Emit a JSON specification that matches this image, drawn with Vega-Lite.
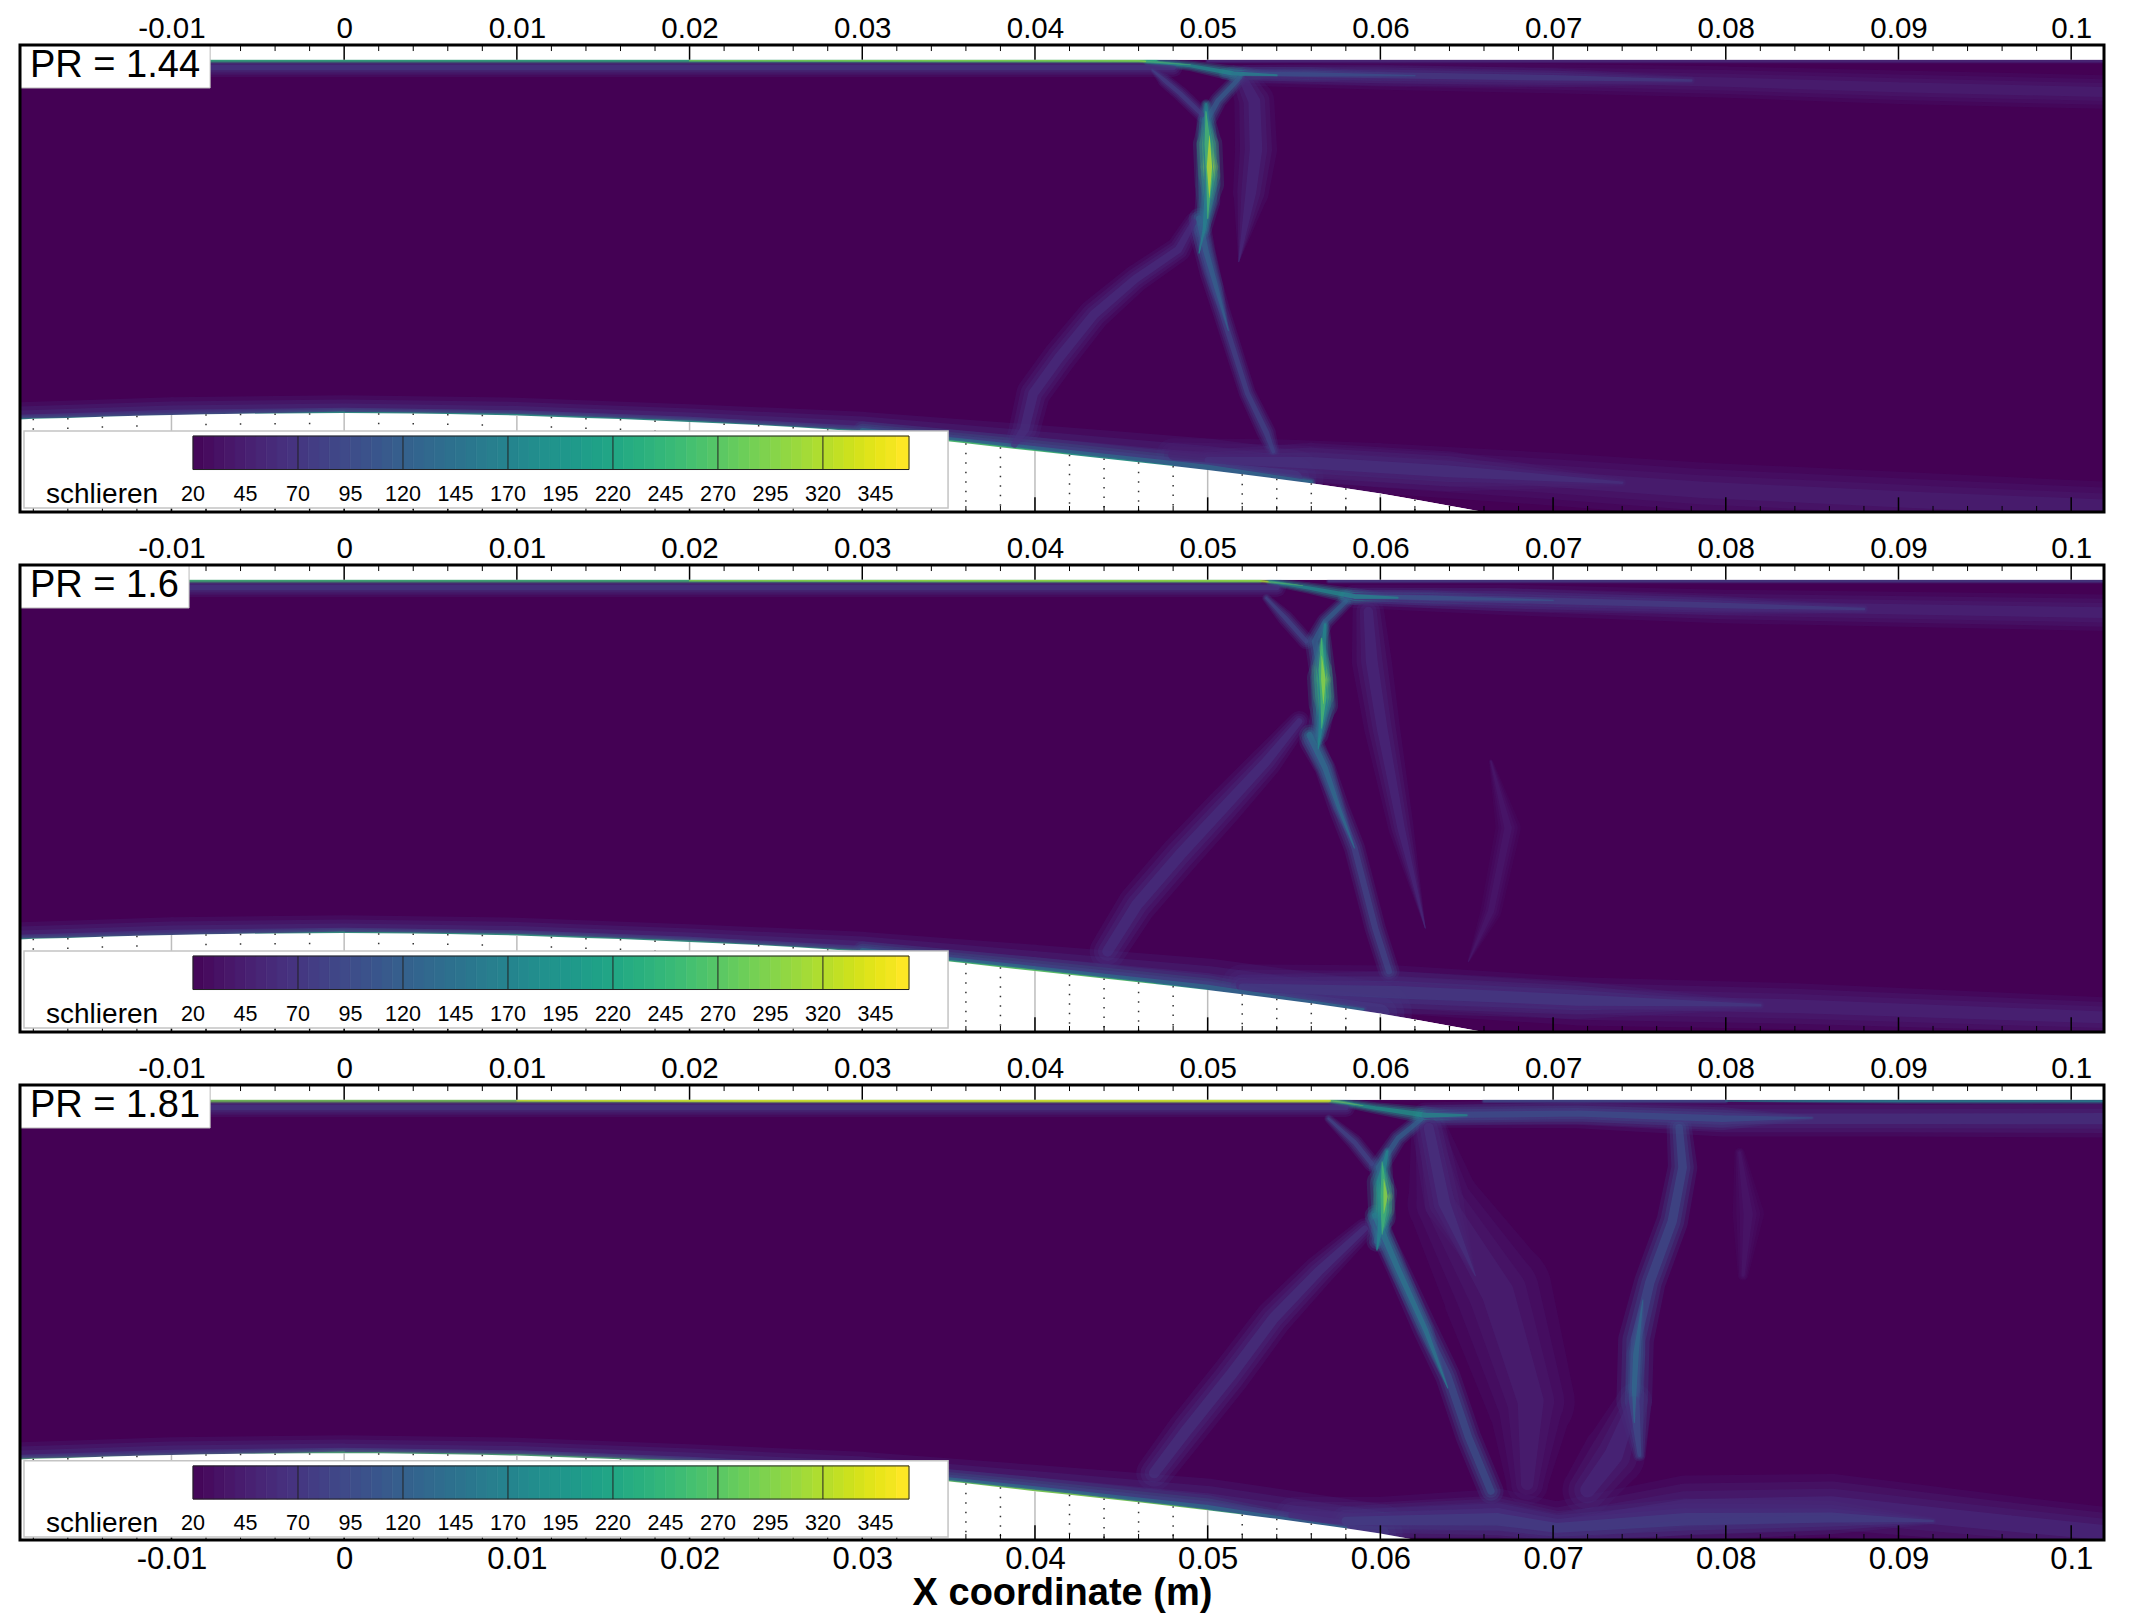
{"background":"white","padding":{"left":18,"top":13,"right":24,"bottom":10},"config":{"view":{"stroke":null},"font":"Liberation Sans"},"bounds":"flush","spacing":53,"resolve":{"scale":{"x":"independent","y":"independent"}},
"datasets":{
"grid":[{"x":-0.019,"floor":5.35,"kind":"edge"},{"x":-0.018,"floor":5.4,"kind":"minor"},{"x":-0.016,"floor":5.45,"kind":"minor"},{"x":-0.014,"floor":5.52,"kind":"minor"},{"x":-0.012,"floor":5.58,"kind":"minor"},{"x":-0.01,"floor":5.62,"kind":"major"},{"x":-0.008,"floor":5.66,"kind":"minor"},{"x":-0.006,"floor":5.69,"kind":"minor"},{"x":-0.004,"floor":5.71,"kind":"minor"},{"x":-0.002,"floor":5.72,"kind":"minor"},{"x":0,"floor":5.73,"kind":"major"},{"x":0.002,"floor":5.72,"kind":"minor"},{"x":0.004,"floor":5.7,"kind":"minor"},{"x":0.006,"floor":5.67,"kind":"minor"},{"x":0.008,"floor":5.63,"kind":"minor"},{"x":0.01,"floor":5.59,"kind":"major"},{"x":0.012,"floor":5.52,"kind":"minor"},{"x":0.014,"floor":5.45,"kind":"minor"},{"x":0.016,"floor":5.38,"kind":"minor"},{"x":0.018,"floor":5.3,"kind":"minor"},{"x":0.02,"floor":5.21,"kind":"major"},{"x":0.022,"floor":5.13,"kind":"minor"},{"x":0.024,"floor":5.04,"kind":"minor"},{"x":0.026,"floor":4.93,"kind":"minor"},{"x":0.028,"floor":4.8,"kind":"minor"},{"x":0.03,"floor":4.65,"kind":"major"},{"x":0.032,"floor":4.45,"kind":"minor"},{"x":0.034,"floor":4.2,"kind":"minor"},{"x":0.036,"floor":3.98,"kind":"minor"},{"x":0.038,"floor":3.75,"kind":"minor"},{"x":0.04,"floor":3.53,"kind":"major"},{"x":0.042,"floor":3.32,"kind":"minor"},{"x":0.044,"floor":3.1,"kind":"minor"},{"x":0.046,"floor":2.88,"kind":"minor"},{"x":0.048,"floor":2.66,"kind":"minor"},{"x":0.05,"floor":2.43,"kind":"major"},{"x":0.052,"floor":2.18,"kind":"minor"},{"x":0.054,"floor":1.93,"kind":"minor"},{"x":0.056,"floor":1.66,"kind":"minor"},{"x":0.058,"floor":1.38,"kind":"minor"},{"x":0.06,"floor":1.07,"kind":"major"},{"x":0.062,"floor":0.72,"kind":"minor"},{"x":0.064,"floor":0.36,"kind":"minor"},{"x":0.066,"floor":0,"kind":"minor"},{"x":0.068,"floor":-0.36,"kind":"minor"},{"x":0.07,"floor":-0.72,"kind":"major"},{"x":0.072,"floor":-1.08,"kind":"minor"},{"x":0.074,"floor":-1.44,"kind":"minor"},{"x":0.076,"floor":-1.8,"kind":"minor"},{"x":0.078,"floor":-2.16,"kind":"minor"},{"x":0.08,"floor":-2.52,"kind":"major"},{"x":0.082,"floor":-2.88,"kind":"minor"},{"x":0.084,"floor":-3.24,"kind":"minor"},{"x":0.086,"floor":-3.6,"kind":"minor"},{"x":0.088,"floor":-3.96,"kind":"minor"},{"x":0.09,"floor":-4.32,"kind":"major"},{"x":0.092,"floor":-4.68,"kind":"minor"},{"x":0.094,"floor":-5.04,"kind":"minor"},{"x":0.096,"floor":-5.4,"kind":"minor"},{"x":0.098,"floor":-5.76,"kind":"minor"},{"x":0.1,"floor":-6.12,"kind":"major"},{"x":0.102,"floor":-6.48,"kind":"minor"},{"x":0.103,"floor":-6.7,"kind":"edge"}],
"bar":[{"lo":20,"hi":25},{"lo":25,"hi":30},{"lo":30,"hi":35},{"lo":35,"hi":40},{"lo":40,"hi":45},{"lo":45,"hi":50},{"lo":50,"hi":55},{"lo":55,"hi":60},{"lo":60,"hi":65},{"lo":65,"hi":70},{"lo":70,"hi":75},{"lo":75,"hi":80},{"lo":80,"hi":85},{"lo":85,"hi":90},{"lo":90,"hi":95},{"lo":95,"hi":100},{"lo":100,"hi":105},{"lo":105,"hi":110},{"lo":110,"hi":115},{"lo":115,"hi":120},{"lo":120,"hi":125},{"lo":125,"hi":130},{"lo":130,"hi":135},{"lo":135,"hi":140},{"lo":140,"hi":145},{"lo":145,"hi":150},{"lo":150,"hi":155},{"lo":155,"hi":160},{"lo":160,"hi":165},{"lo":165,"hi":170},{"lo":170,"hi":175},{"lo":175,"hi":180},{"lo":180,"hi":185},{"lo":185,"hi":190},{"lo":190,"hi":195},{"lo":195,"hi":200},{"lo":200,"hi":205},{"lo":205,"hi":210},{"lo":210,"hi":215},{"lo":215,"hi":220},{"lo":220,"hi":225},{"lo":225,"hi":230},{"lo":230,"hi":235},{"lo":235,"hi":240},{"lo":240,"hi":245},{"lo":245,"hi":250},{"lo":250,"hi":255},{"lo":255,"hi":260},{"lo":260,"hi":265},{"lo":265,"hi":270},{"lo":270,"hi":275},{"lo":275,"hi":280},{"lo":280,"hi":285},{"lo":285,"hi":290},{"lo":290,"hi":295},{"lo":295,"hi":300},{"lo":300,"hi":305},{"lo":305,"hi":310},{"lo":310,"hi":315},{"lo":315,"hi":320},{"lo":320,"hi":325},{"lo":325,"hi":330},{"lo":330,"hi":335},{"lo":335,"hi":340},{"lo":340,"hi":345},{"lo":345,"hi":350},{"lo":350,"hi":355},{"lo":355,"hi":361}],
"barlabels":[{"v":20},{"v":45},{"v":70},{"v":95},{"v":120},{"v":145},{"v":170},{"v":195},{"v":220},{"v":245},{"v":270},{"v":295},{"v":320},{"v":345}],
"barlines":[{"v":70},{"v":120},{"v":170},{"v":220},{"v":270},{"v":320}],
"streaks":[
{"panel":1,"streak":"a","n":1,"x":-0.019,"y":5.32,"schlieren":75,"thick":1.7},{"panel":1,"streak":"a","n":2,"x":-0.01,"y":5.62,"schlieren":75,"thick":1.7},{"panel":1,"streak":"a","n":3,"x":0,"y":5.73,"schlieren":75,"thick":1.7},{"panel":1,"streak":"a","n":4,"x":0.01,"y":5.59,"schlieren":75,"thick":1.7},{"panel":1,"streak":"a","n":5,"x":0.02,"y":5.21,"schlieren":75,"thick":1.7},{"panel":1,"streak":"a","n":6,"x":0.03,"y":4.65,"schlieren":75,"thick":1.9},{"panel":1,"streak":"a","n":7,"x":0.04,"y":3.53,"schlieren":75,"thick":2.5},{"panel":1,"streak":"a","n":8,"x":0.05,"y":2.43,"schlieren":75,"thick":3},{"panel":1,"streak":"a","n":9,"x":0.055,"y":1.9,"schlieren":75,"thick":2.8},
{"panel":1,"streak":"b","n":1,"x":0.048,"y":3.3,"schlieren":50,"thick":1.6},{"panel":1,"streak":"b","n":2,"x":0.054,"y":2.94,"schlieren":50,"thick":2.1},{"panel":1,"streak":"b","n":3,"x":0.06,"y":2.53,"schlieren":50,"thick":2.4},{"panel":1,"streak":"b","n":4,"x":0.07,"y":1.9,"schlieren":50,"thick":2.5},{"panel":1,"streak":"b","n":5,"x":0.0787,"y":1.28,"schlieren":50,"thick":2.6},{"panel":1,"streak":"b","n":6,"x":0.0918,"y":0.66,"schlieren":50,"thick":2.6},{"panel":1,"streak":"b","n":7,"x":0.103,"y":0.25,"schlieren":50,"thick":2.4},
{"panel":1,"streak":"c","n":1,"x":0.05,"y":3,"schlieren":70,"thick":1},{"panel":1,"streak":"c","n":2,"x":0.056,"y":2.85,"schlieren":70,"thick":1.9},{"panel":1,"streak":"c","n":3,"x":0.064,"y":2.35,"schlieren":70,"thick":1.9},{"panel":1,"streak":"c","n":4,"x":0.074,"y":1.7,"schlieren":70,"thick":0.4},
{"panel":1,"streak":"d","n":1,"x":0.03,"y":4.7,"schlieren":150,"thick":0.9},{"panel":1,"streak":"d","n":2,"x":0.04,"y":3.6,"schlieren":150,"thick":1.2},{"panel":1,"streak":"d","n":3,"x":0.05,"y":2.5,"schlieren":150,"thick":1.3},{"panel":1,"streak":"d","n":4,"x":0.056,"y":1.75,"schlieren":150,"thick":0.4},
{"panel":1,"streak":"e","n":1,"x":-0.019,"y":5.32,"schlieren":230,"thick":0.5},{"panel":1,"streak":"e","n":2,"x":0,"y":5.73,"schlieren":230,"thick":0.5},{"panel":1,"streak":"e","n":3,"x":0.01,"y":5.59,"schlieren":230,"thick":0.5},{"panel":1,"streak":"e","n":4,"x":0.02,"y":5.21,"schlieren":230,"thick":0.5},{"panel":1,"streak":"e","n":5,"x":0.03,"y":4.65,"schlieren":230,"thick":0.5},{"panel":1,"streak":"e","n":6,"x":0.04,"y":3.53,"schlieren":230,"thick":0.5},{"panel":1,"streak":"e","n":7,"x":0.045,"y":3,"schlieren":230,"thick":0.3},{"panel":1,"streak":"e","n":8,"x":0.048,"y":2.66,"schlieren":230,"thick":0},
{"panel":1,"streak":"f","n":1,"x":0.03,"y":4.65,"schlieren":280,"thick":0.1},{"panel":1,"streak":"f","n":2,"x":0.036,"y":3.98,"schlieren":280,"thick":0.4},{"panel":1,"streak":"f","n":3,"x":0.042,"y":3.32,"schlieren":280,"thick":0.1},
{"panel":1,"streak":"g","n":1,"x":-0.019,"y":25.75,"schlieren":75,"thick":0.9},{"panel":1,"streak":"g","n":2,"x":0.048,"y":25.75,"schlieren":75,"thick":0.9},
{"panel":1,"streak":"h","n":1,"x":-0.019,"y":26.15,"schlieren":240,"thick":0.3},{"panel":1,"streak":"h","n":2,"x":0.047,"y":26.15,"schlieren":240,"thick":0.3},
{"panel":1,"streak":"i","n":1,"x":0.02,"y":26.14,"schlieren":310,"thick":0},{"panel":1,"streak":"i","n":2,"x":0.035,"y":26.14,"schlieren":310,"thick":0.2},{"panel":1,"streak":"i","n":3,"x":0.046,"y":26.14,"schlieren":310,"thick":0.22},{"panel":1,"streak":"i","n":4,"x":0.049,"y":25.9,"schlieren":310,"thick":0.05},
{"panel":1,"streak":"j","n":1,"x":0.05,"y":26.12,"schlieren":65,"thick":0.25},{"panel":1,"streak":"j","n":2,"x":0.103,"y":26.12,"schlieren":65,"thick":0.25},
{"panel":1,"streak":"k","n":1,"x":0.0523,"y":25.3,"schlieren":50,"thick":1},{"panel":1,"streak":"k","n":2,"x":0.06,"y":25.25,"schlieren":50,"thick":1.3},{"panel":1,"streak":"k","n":3,"x":0.07,"y":25.1,"schlieren":50,"thick":1.4},{"panel":1,"streak":"k","n":4,"x":0.08,"y":24.9,"schlieren":50,"thick":1.5},{"panel":1,"streak":"k","n":5,"x":0.09,"y":24.6,"schlieren":50,"thick":1.6},{"panel":1,"streak":"k","n":6,"x":0.103,"y":24.3,"schlieren":50,"thick":1.6},
{"panel":1,"streak":"l","n":1,"x":0.0515,"y":25.4,"schlieren":80,"thick":0.8},{"panel":1,"streak":"l","n":2,"x":0.06,"y":25.3,"schlieren":80,"thick":1},{"panel":1,"streak":"l","n":3,"x":0.07,"y":25.15,"schlieren":80,"thick":0.9},{"panel":1,"streak":"l","n":4,"x":0.078,"y":25,"schlieren":80,"thick":0.4},
{"panel":1,"streak":"m","n":1,"x":0.051,"y":25.4,"schlieren":110,"thick":0.6},{"panel":1,"streak":"m","n":2,"x":0.056,"y":25.35,"schlieren":110,"thick":0.7},{"panel":1,"streak":"m","n":3,"x":0.062,"y":25.28,"schlieren":110,"thick":0.2},
{"panel":1,"streak":"n","n":1,"x":0.0521,"y":25,"schlieren":60,"thick":1.4},{"panel":1,"streak":"n","n":2,"x":0.0527,"y":23.8,"schlieren":60,"thick":1.9},{"panel":1,"streak":"n","n":3,"x":0.0528,"y":21,"schlieren":60,"thick":2},{"panel":1,"streak":"n","n":4,"x":0.0525,"y":18.5,"schlieren":60,"thick":1.7},{"panel":1,"streak":"n","n":5,"x":0.0518,"y":14.5,"schlieren":60,"thick":0},
{"panel":1,"streak":"o","n":1,"x":0.0492,"y":16.8,"schlieren":65,"thick":0.9},{"panel":1,"streak":"o","n":2,"x":0.0483,"y":15.2,"schlieren":65,"thick":1.2},{"panel":1,"streak":"o","n":3,"x":0.0458,"y":13.49,"schlieren":65,"thick":1.3},{"panel":1,"streak":"o","n":4,"x":0.0434,"y":11.42,"schlieren":65,"thick":1.5},{"panel":1,"streak":"o","n":5,"x":0.0414,"y":8.94,"schlieren":65,"thick":1.6},{"panel":1,"streak":"o","n":6,"x":0.0399,"y":6.87,"schlieren":65,"thick":1.6},{"panel":1,"streak":"o","n":7,"x":0.0394,"y":4.8,"schlieren":65,"thick":1.5},{"panel":1,"streak":"o","n":8,"x":0.0388,"y":3.9,"schlieren":65,"thick":1},
{"panel":1,"streak":"p","n":1,"x":0.0468,"y":25.6,"schlieren":85,"thick":0.2},{"panel":1,"streak":"p","n":2,"x":0.0475,"y":25,"schlieren":85,"thick":0.65},{"panel":1,"streak":"p","n":3,"x":0.0484,"y":24.25,"schlieren":85,"thick":0.7},{"panel":1,"streak":"p","n":4,"x":0.0497,"y":23,"schlieren":85,"thick":0.7},
{"panel":1,"streak":"q","n":1,"x":0.0495,"y":16.4,"schlieren":90,"thick":1},{"panel":1,"streak":"q","n":2,"x":0.0501,"y":13.9,"schlieren":90,"thick":0.95},{"panel":1,"streak":"q","n":3,"x":0.0508,"y":11.6,"schlieren":90,"thick":0.85},{"panel":1,"streak":"q","n":4,"x":0.0523,"y":6.87,"schlieren":90,"thick":0.8},{"panel":1,"streak":"q","n":5,"x":0.0534,"y":4.59,"schlieren":90,"thick":0.9},{"panel":1,"streak":"q","n":6,"x":0.0538,"y":3.5,"schlieren":90,"thick":0.6},
{"panel":1,"streak":"r","n":1,"x":0.0495,"y":17,"schlieren":130,"thick":1},{"panel":1,"streak":"r","n":2,"x":0.0499,"y":15.1,"schlieren":130,"thick":0.9},{"panel":1,"streak":"r","n":3,"x":0.0505,"y":13,"schlieren":130,"thick":0.7},{"panel":1,"streak":"r","n":4,"x":0.0512,"y":10.5,"schlieren":130,"thick":0},
{"panel":1,"streak":"s","n":1,"x":0.0519,"y":25.2,"schlieren":125,"thick":0.7},{"panel":1,"streak":"s","n":2,"x":0.0506,"y":23.83,"schlieren":125,"thick":0.8},{"panel":1,"streak":"s","n":3,"x":0.0499,"y":22.6,"schlieren":125,"thick":0.9},{"panel":1,"streak":"s","n":4,"x":0.05,"y":20,"schlieren":125,"thick":1.1},{"panel":1,"streak":"s","n":5,"x":0.05,"y":18,"schlieren":125,"thick":1.2},{"panel":1,"streak":"s","n":6,"x":0.0497,"y":16.4,"schlieren":125,"thick":0.9},
{"panel":1,"streak":"t","n":1,"x":0.0465,"y":26.1,"schlieren":190,"thick":0.4},{"panel":1,"streak":"t","n":2,"x":0.049,"y":25.85,"schlieren":190,"thick":0.5},{"panel":1,"streak":"t","n":3,"x":0.0515,"y":25.4,"schlieren":190,"thick":0.75},{"panel":1,"streak":"t","n":4,"x":0.054,"y":25.3,"schlieren":190,"thick":0.3},
{"panel":1,"streak":"u","n":1,"x":0.0499,"y":23.6,"schlieren":180,"thick":0.5},{"panel":1,"streak":"u","n":2,"x":0.05,"y":21.3,"schlieren":180,"thick":1.4},{"panel":1,"streak":"u","n":3,"x":0.0501,"y":19,"schlieren":180,"thick":1.4},{"panel":1,"streak":"u","n":4,"x":0.0498,"y":16.4,"schlieren":180,"thick":0.5},{"panel":1,"streak":"u","n":5,"x":0.0495,"y":15,"schlieren":180,"thick":0},
{"panel":1,"streak":"v","n":1,"x":0.0499,"y":23.2,"schlieren":270,"thick":0.1},{"panel":1,"streak":"v","n":2,"x":0.05,"y":21.3,"schlieren":270,"thick":1.05},{"panel":1,"streak":"v","n":3,"x":0.0501,"y":19.5,"schlieren":270,"thick":1.05},{"panel":1,"streak":"v","n":4,"x":0.05,"y":17,"schlieren":270,"thick":0.1},
{"panel":1,"streak":"w","n":1,"x":0.0501,"y":21.8,"schlieren":345,"thick":0.05},{"panel":1,"streak":"w","n":2,"x":0.0501,"y":20,"schlieren":345,"thick":0.85},{"panel":1,"streak":"w","n":3,"x":0.0501,"y":18.2,"schlieren":345,"thick":0.05},

{"panel":2,"streak":"a","n":1,"x":-0.019,"y":5.32,"schlieren":75,"thick":1.7},{"panel":2,"streak":"a","n":2,"x":-0.01,"y":5.62,"schlieren":75,"thick":1.7},{"panel":2,"streak":"a","n":3,"x":0,"y":5.73,"schlieren":75,"thick":1.7},{"panel":2,"streak":"a","n":4,"x":0.01,"y":5.59,"schlieren":75,"thick":1.7},{"panel":2,"streak":"a","n":5,"x":0.02,"y":5.21,"schlieren":75,"thick":1.7},{"panel":2,"streak":"a","n":6,"x":0.03,"y":4.65,"schlieren":75,"thick":1.9},{"panel":2,"streak":"a","n":7,"x":0.04,"y":3.53,"schlieren":75,"thick":2.5},{"panel":2,"streak":"a","n":8,"x":0.05,"y":2.43,"schlieren":75,"thick":3},{"panel":2,"streak":"a","n":9,"x":0.06,"y":1.07,"schlieren":75,"thick":3},
{"panel":2,"streak":"b","n":1,"x":0.052,"y":2.7,"schlieren":55,"thick":2},{"panel":2,"streak":"b","n":2,"x":0.061,"y":2.45,"schlieren":55,"thick":2.3},{"panel":2,"streak":"b","n":3,"x":0.0714,"y":1.78,"schlieren":55,"thick":2.3},{"panel":2,"streak":"b","n":4,"x":0.084,"y":1.49,"schlieren":55,"thick":2.2},{"panel":2,"streak":"b","n":5,"x":0.103,"y":0.81,"schlieren":55,"thick":1.9},
{"panel":2,"streak":"c","n":1,"x":0.052,"y":2.6,"schlieren":80,"thick":1.2},{"panel":2,"streak":"c","n":2,"x":0.061,"y":2.3,"schlieren":80,"thick":2},{"panel":2,"streak":"c","n":3,"x":0.0714,"y":1.85,"schlieren":80,"thick":1.8},{"panel":2,"streak":"c","n":4,"x":0.082,"y":1.55,"schlieren":80,"thick":0.4},
{"panel":2,"streak":"d","n":1,"x":0.03,"y":4.7,"schlieren":150,"thick":0.9},{"panel":2,"streak":"d","n":2,"x":0.04,"y":3.6,"schlieren":150,"thick":1.2},{"panel":2,"streak":"d","n":3,"x":0.05,"y":2.5,"schlieren":150,"thick":1.3},{"panel":2,"streak":"d","n":4,"x":0.059,"y":1.3,"schlieren":150,"thick":0.4},
{"panel":2,"streak":"e","n":1,"x":-0.019,"y":5.32,"schlieren":240,"thick":0.5},{"panel":2,"streak":"e","n":2,"x":0,"y":5.73,"schlieren":240,"thick":0.5},{"panel":2,"streak":"e","n":3,"x":0.01,"y":5.59,"schlieren":240,"thick":0.5},{"panel":2,"streak":"e","n":4,"x":0.02,"y":5.21,"schlieren":240,"thick":0.5},{"panel":2,"streak":"e","n":5,"x":0.03,"y":4.65,"schlieren":240,"thick":0.5},{"panel":2,"streak":"e","n":6,"x":0.04,"y":3.53,"schlieren":240,"thick":0.5},{"panel":2,"streak":"e","n":7,"x":0.046,"y":2.88,"schlieren":240,"thick":0.4},{"panel":2,"streak":"e","n":8,"x":0.05,"y":2.43,"schlieren":240,"thick":0},
{"panel":2,"streak":"f","n":1,"x":0.034,"y":4.2,"schlieren":290,"thick":0.1},{"panel":2,"streak":"f","n":2,"x":0.04,"y":3.53,"schlieren":290,"thick":0.4},{"panel":2,"streak":"f","n":3,"x":0.047,"y":2.77,"schlieren":290,"thick":0.1},
{"panel":2,"streak":"g","n":1,"x":-0.019,"y":25.75,"schlieren":75,"thick":0.9},{"panel":2,"streak":"g","n":2,"x":0.054,"y":25.75,"schlieren":75,"thick":0.9},
{"panel":2,"streak":"h","n":1,"x":-0.019,"y":26.15,"schlieren":255,"thick":0.3},{"panel":2,"streak":"h","n":2,"x":0.053,"y":26.15,"schlieren":255,"thick":0.3},
{"panel":2,"streak":"i","n":1,"x":0.02,"y":26.14,"schlieren":320,"thick":0},{"panel":2,"streak":"i","n":2,"x":0.035,"y":26.14,"schlieren":320,"thick":0.2},{"panel":2,"streak":"i","n":3,"x":0.053,"y":26.14,"schlieren":320,"thick":0.22},{"panel":2,"streak":"i","n":4,"x":0.0555,"y":25.85,"schlieren":320,"thick":0.05},
{"panel":2,"streak":"j","n":1,"x":0.057,"y":26.12,"schlieren":85,"thick":0.25},{"panel":2,"streak":"j","n":2,"x":0.103,"y":26.12,"schlieren":85,"thick":0.25},
{"panel":2,"streak":"k","n":1,"x":0.0585,"y":25.23,"schlieren":55,"thick":1.1},{"panel":2,"streak":"k","n":2,"x":0.0672,"y":25.04,"schlieren":55,"thick":1.45},{"panel":2,"streak":"k","n":3,"x":0.0798,"y":24.65,"schlieren":55,"thick":1.6},{"panel":2,"streak":"k","n":4,"x":0.103,"y":24.27,"schlieren":55,"thick":1.75},
{"panel":2,"streak":"l","n":1,"x":0.058,"y":25.25,"schlieren":85,"thick":0.8},{"panel":2,"streak":"l","n":2,"x":0.0672,"y":25.04,"schlieren":85,"thick":1.1},{"panel":2,"streak":"l","n":3,"x":0.0798,"y":24.7,"schlieren":85,"thick":0.9},{"panel":2,"streak":"l","n":4,"x":0.088,"y":24.5,"schlieren":85,"thick":0.4},
{"panel":2,"streak":"m","n":1,"x":0.058,"y":25.25,"schlieren":115,"thick":0.6},{"panel":2,"streak":"m","n":2,"x":0.063,"y":25.15,"schlieren":115,"thick":0.75},{"panel":2,"streak":"m","n":3,"x":0.07,"y":25,"schlieren":115,"thick":0.2},
{"panel":2,"streak":"n","n":1,"x":0.0593,"y":24.36,"schlieren":60,"thick":1.5},{"panel":2,"streak":"n","n":2,"x":0.0595,"y":21.47,"schlieren":60,"thick":1.9},{"panel":2,"streak":"n","n":3,"x":0.0601,"y":17.6,"schlieren":60,"thick":1.7},{"panel":2,"streak":"n","n":4,"x":0.0612,"y":11.81,"schlieren":60,"thick":1.2},{"panel":2,"streak":"n","n":5,"x":0.0626,"y":6.02,"schlieren":60,"thick":0},
{"panel":2,"streak":"o","n":1,"x":0.0553,"y":17.99,"schlieren":68,"thick":1},{"panel":2,"streak":"o","n":2,"x":0.0534,"y":15.68,"schlieren":68,"thick":1.5},{"panel":2,"streak":"o","n":3,"x":0.0509,"y":12.97,"schlieren":68,"thick":1.75},{"panel":2,"streak":"o","n":4,"x":0.0484,"y":10.27,"schlieren":68,"thick":1.85},{"panel":2,"streak":"o","n":5,"x":0.0459,"y":7.37,"schlieren":68,"thick":1.85},{"panel":2,"streak":"o","n":6,"x":0.0442,"y":4.67,"schlieren":68,"thick":1.7},
{"panel":2,"streak":"x","n":1,"x":0.0664,"y":15.68,"schlieren":42,"thick":0.2},{"panel":2,"streak":"x","n":2,"x":0.0674,"y":11.81,"schlieren":42,"thick":1.2},{"panel":2,"streak":"x","n":3,"x":0.0664,"y":6.99,"schlieren":42,"thick":1},{"panel":2,"streak":"x","n":4,"x":0.0651,"y":4.09,"schlieren":42,"thick":0.1},
{"panel":2,"streak":"p","n":1,"x":0.0534,"y":25.13,"schlieren":95,"thick":0.4},{"panel":2,"streak":"p","n":2,"x":0.0545,"y":23.98,"schlieren":95,"thick":0.75},{"panel":2,"streak":"p","n":3,"x":0.0557,"y":22.63,"schlieren":95,"thick":0.75},
{"panel":2,"streak":"q","n":1,"x":0.0559,"y":16.83,"schlieren":95,"thick":1},{"panel":2,"streak":"q","n":2,"x":0.0568,"y":15.29,"schlieren":95,"thick":1},{"panel":2,"streak":"q","n":3,"x":0.0576,"y":12.97,"schlieren":95,"thick":1},{"panel":2,"streak":"q","n":4,"x":0.0585,"y":10.66,"schlieren":95,"thick":1},{"panel":2,"streak":"q","n":5,"x":0.0597,"y":6.02,"schlieren":95,"thick":1},{"panel":2,"streak":"q","n":6,"x":0.0605,"y":3.51,"schlieren":95,"thick":1},
{"panel":2,"streak":"r","n":1,"x":0.0559,"y":17.2,"schlieren":150,"thick":1},{"panel":2,"streak":"r","n":2,"x":0.0568,"y":15.29,"schlieren":150,"thick":0.9},{"panel":2,"streak":"r","n":3,"x":0.0576,"y":12.97,"schlieren":150,"thick":0.6},{"panel":2,"streak":"r","n":4,"x":0.0585,"y":10.66,"schlieren":150,"thick":0},
{"panel":2,"streak":"s","n":1,"x":0.058,"y":24.94,"schlieren":130,"thick":0.7},{"panel":2,"streak":"s","n":2,"x":0.0568,"y":23.78,"schlieren":130,"thick":0.8},{"panel":2,"streak":"s","n":3,"x":0.0562,"y":22.63,"schlieren":130,"thick":0.95},{"panel":2,"streak":"s","n":4,"x":0.0566,"y":20.5,"schlieren":130,"thick":1.1},{"panel":2,"streak":"s","n":5,"x":0.0567,"y":18.96,"schlieren":130,"thick":1.2},{"panel":2,"streak":"s","n":6,"x":0.0564,"y":17.22,"schlieren":130,"thick":1},
{"panel":2,"streak":"t","n":1,"x":0.0536,"y":26.1,"schlieren":190,"thick":0.4},{"panel":2,"streak":"t","n":2,"x":0.0559,"y":25.71,"schlieren":190,"thick":0.55},{"panel":2,"streak":"t","n":3,"x":0.0585,"y":25.23,"schlieren":190,"thick":0.8},{"panel":2,"streak":"t","n":4,"x":0.061,"y":25.15,"schlieren":190,"thick":0.3},
{"panel":2,"streak":"u","n":1,"x":0.0568,"y":23.6,"schlieren":185,"thick":0.4},{"panel":2,"streak":"u","n":2,"x":0.0566,"y":20.5,"schlieren":185,"thick":1.4},{"panel":2,"streak":"u","n":3,"x":0.0567,"y":18.96,"schlieren":185,"thick":1.4},{"panel":2,"streak":"u","n":4,"x":0.0564,"y":16.4,"schlieren":185,"thick":0.1},
{"panel":2,"streak":"v","n":1,"x":0.0566,"y":22.8,"schlieren":270,"thick":0.1},{"panel":2,"streak":"v","n":2,"x":0.0566,"y":21,"schlieren":270,"thick":1},{"panel":2,"streak":"v","n":3,"x":0.0567,"y":19.4,"schlieren":270,"thick":1},{"panel":2,"streak":"v","n":4,"x":0.0566,"y":17.6,"schlieren":270,"thick":0.1},
{"panel":2,"streak":"w","n":1,"x":0.0566,"y":21.8,"schlieren":315,"thick":0.05},{"panel":2,"streak":"w","n":2,"x":0.0567,"y":20.4,"schlieren":315,"thick":0.75},{"panel":2,"streak":"w","n":3,"x":0.0567,"y":19,"schlieren":315,"thick":0.05},

{"panel":3,"streak":"a","n":1,"x":-0.019,"y":5.32,"schlieren":75,"thick":1.7},{"panel":3,"streak":"a","n":2,"x":-0.01,"y":5.62,"schlieren":75,"thick":1.7},{"panel":3,"streak":"a","n":3,"x":0,"y":5.73,"schlieren":75,"thick":1.7},{"panel":3,"streak":"a","n":4,"x":0.01,"y":5.59,"schlieren":75,"thick":1.7},{"panel":3,"streak":"a","n":5,"x":0.02,"y":5.21,"schlieren":75,"thick":1.7},{"panel":3,"streak":"a","n":6,"x":0.03,"y":4.65,"schlieren":75,"thick":1.9},{"panel":3,"streak":"a","n":7,"x":0.04,"y":3.53,"schlieren":75,"thick":2.5},{"panel":3,"streak":"a","n":8,"x":0.05,"y":2.43,"schlieren":75,"thick":3},{"panel":3,"streak":"a","n":9,"x":0.06,"y":1.07,"schlieren":75,"thick":2.8},
{"panel":3,"streak":"b","n":1,"x":0.055,"y":2.1,"schlieren":60,"thick":1.8},{"panel":3,"streak":"b","n":2,"x":0.0601,"y":1.87,"schlieren":60,"thick":2.2},{"panel":3,"streak":"b","n":3,"x":0.0668,"y":2.08,"schlieren":60,"thick":2.6},{"panel":3,"streak":"b","n":4,"x":0.0702,"y":1.45,"schlieren":60,"thick":2.4},{"panel":3,"streak":"b","n":5,"x":0.0777,"y":2.49,"schlieren":60,"thick":3.2},{"panel":3,"streak":"b","n":6,"x":0.0861,"y":2.7,"schlieren":60,"thick":3},{"panel":3,"streak":"b","n":7,"x":0.0965,"y":1.66,"schlieren":60,"thick":2.6},{"panel":3,"streak":"b","n":8,"x":0.103,"y":1.03,"schlieren":60,"thick":2.4},
{"panel":3,"streak":"c","n":1,"x":0.058,"y":1.8,"schlieren":85,"thick":1.4},{"panel":3,"streak":"c","n":2,"x":0.0668,"y":1.9,"schlieren":85,"thick":2},{"panel":3,"streak":"c","n":3,"x":0.0702,"y":1.4,"schlieren":85,"thick":1.6},{"panel":3,"streak":"c","n":4,"x":0.0777,"y":1.9,"schlieren":85,"thick":2},{"panel":3,"streak":"c","n":5,"x":0.0861,"y":2,"schlieren":85,"thick":1.6},{"panel":3,"streak":"c","n":6,"x":0.092,"y":1.8,"schlieren":85,"thick":0.3},
{"panel":3,"streak":"d","n":1,"x":0.03,"y":4.7,"schlieren":150,"thick":0.9},{"panel":3,"streak":"d","n":2,"x":0.04,"y":3.6,"schlieren":150,"thick":1.2},{"panel":3,"streak":"d","n":3,"x":0.05,"y":2.5,"schlieren":150,"thick":1.3},{"panel":3,"streak":"d","n":4,"x":0.058,"y":1.4,"schlieren":150,"thick":0.4},
{"panel":3,"streak":"e","n":1,"x":-0.019,"y":5.32,"schlieren":265,"thick":0.5},{"panel":3,"streak":"e","n":2,"x":0,"y":5.73,"schlieren":265,"thick":0.5},{"panel":3,"streak":"e","n":3,"x":0.01,"y":5.59,"schlieren":265,"thick":0.5},{"panel":3,"streak":"e","n":4,"x":0.02,"y":5.21,"schlieren":265,"thick":0.5},{"panel":3,"streak":"e","n":5,"x":0.03,"y":4.65,"schlieren":265,"thick":0.5},{"panel":3,"streak":"e","n":6,"x":0.04,"y":3.53,"schlieren":265,"thick":0.5},{"panel":3,"streak":"e","n":7,"x":0.048,"y":2.66,"schlieren":265,"thick":0.4},{"panel":3,"streak":"e","n":8,"x":0.052,"y":2.18,"schlieren":265,"thick":0},
{"panel":3,"streak":"f","n":1,"x":0.034,"y":4.2,"schlieren":310,"thick":0.1},{"panel":3,"streak":"f","n":2,"x":0.042,"y":3.32,"schlieren":310,"thick":0.4},{"panel":3,"streak":"f","n":3,"x":0.05,"y":2.43,"schlieren":310,"thick":0.1},
{"panel":3,"streak":"g","n":1,"x":-0.019,"y":25.75,"schlieren":75,"thick":0.9},{"panel":3,"streak":"g","n":2,"x":0.058,"y":25.75,"schlieren":75,"thick":0.9},
{"panel":3,"streak":"h","n":1,"x":-0.019,"y":26.15,"schlieren":290,"thick":0.3},{"panel":3,"streak":"h","n":2,"x":0.057,"y":26.15,"schlieren":290,"thick":0.3},
{"panel":3,"streak":"i","n":1,"x":0.01,"y":26.14,"schlieren":355,"thick":0},{"panel":3,"streak":"i","n":2,"x":0.025,"y":26.14,"schlieren":355,"thick":0.22},{"panel":3,"streak":"i","n":3,"x":0.0572,"y":26.14,"schlieren":355,"thick":0.25},{"panel":3,"streak":"i","n":4,"x":0.059,"y":25.85,"schlieren":355,"thick":0.05},
{"panel":3,"streak":"j","n":1,"x":0.066,"y":26.12,"schlieren":100,"thick":0.25},{"panel":3,"streak":"j","n":2,"x":0.08,"y":26.12,"schlieren":100,"thick":0.25},
{"panel":3,"streak":"y","n":1,"x":0.08,"y":26.12,"schlieren":175,"thick":0.1},{"panel":3,"streak":"y","n":2,"x":0.09,"y":26.12,"schlieren":175,"thick":0.28},{"panel":3,"streak":"y","n":3,"x":0.103,"y":26.12,"schlieren":175,"thick":0.3},
{"panel":3,"streak":"k","n":1,"x":0.0626,"y":25.3,"schlieren":70,"thick":1.2},{"panel":3,"streak":"k","n":2,"x":0.0714,"y":25.4,"schlieren":70,"thick":1.4},{"panel":3,"streak":"k","n":3,"x":0.0798,"y":25.1,"schlieren":70,"thick":1.7},{"panel":3,"streak":"k","n":4,"x":0.09,"y":25.1,"schlieren":70,"thick":1.7},{"panel":3,"streak":"k","n":5,"x":0.103,"y":25.1,"schlieren":70,"thick":1.8},
{"panel":3,"streak":"l","n":1,"x":0.0626,"y":25.3,"schlieren":105,"thick":1},{"panel":3,"streak":"l","n":2,"x":0.0714,"y":25.4,"schlieren":105,"thick":1},{"panel":3,"streak":"l","n":3,"x":0.0798,"y":25.1,"schlieren":105,"thick":1.1},{"panel":3,"streak":"l","n":4,"x":0.085,"y":25.15,"schlieren":105,"thick":0.2},
{"panel":3,"streak":"z","n":1,"x":0.0628,"y":24.58,"schlieren":50,"thick":1.7},{"panel":3,"streak":"z","n":2,"x":0.0637,"y":20.2,"schlieren":50,"thick":3.5},{"panel":3,"streak":"z","n":3,"x":0.0668,"y":14.99,"schlieren":50,"thick":5.2},{"panel":3,"streak":"z","n":4,"x":0.0687,"y":8.74,"schlieren":50,"thick":4.2},{"panel":3,"streak":"z","n":5,"x":0.0685,"y":3.95,"schlieren":50,"thick":2},
{"panel":3,"streak":"n","n":1,"x":0.0628,"y":24.58,"schlieren":70,"thick":1.6},{"panel":3,"streak":"n","n":2,"x":0.0637,"y":20.2,"schlieren":70,"thick":1.9},{"panel":3,"streak":"n","n":3,"x":0.0655,"y":16,"schlieren":70,"thick":0},
{"panel":3,"streak":"x","n":1,"x":0.0808,"y":23.12,"schlieren":40,"thick":0.5},{"panel":3,"streak":"x","n":2,"x":0.0813,"y":19.58,"schlieren":40,"thick":1.5},{"panel":3,"streak":"x","n":3,"x":0.081,"y":16.03,"schlieren":40,"thick":0.5},
{"panel":3,"streak":"o","n":1,"x":0.0591,"y":18.74,"schlieren":70,"thick":1},{"panel":3,"streak":"o","n":2,"x":0.0564,"y":16.24,"schlieren":70,"thick":1.5},{"panel":3,"streak":"o","n":3,"x":0.0538,"y":13.53,"schlieren":70,"thick":1.75},{"panel":3,"streak":"o","n":4,"x":0.0513,"y":10.2,"schlieren":70,"thick":1.85},{"panel":3,"streak":"o","n":5,"x":0.0488,"y":7.08,"schlieren":70,"thick":1.85},{"panel":3,"streak":"o","n":6,"x":0.0469,"y":4.58,"schlieren":70,"thick":1.7},
{"panel":3,"streak":"aa","n":1,"x":0.0747,"y":8.74,"schlieren":60,"thick":1.7},{"panel":3,"streak":"aa","n":2,"x":0.0735,"y":5.6,"schlieren":60,"thick":3},{"panel":3,"streak":"aa","n":3,"x":0.072,"y":3.6,"schlieren":60,"thick":2.4},
{"panel":3,"streak":"ab","n":1,"x":0.0773,"y":24.58,"schlieren":100,"thick":1.2},{"panel":3,"streak":"ab","n":2,"x":0.0775,"y":22.28,"schlieren":100,"thick":1.4},{"panel":3,"streak":"ab","n":3,"x":0.0769,"y":19.16,"schlieren":100,"thick":1.5},{"panel":3,"streak":"ab","n":4,"x":0.0756,"y":15.62,"schlieren":100,"thick":1.5},{"panel":3,"streak":"ab","n":5,"x":0.0748,"y":12.28,"schlieren":100,"thick":1.7},{"panel":3,"streak":"ab","n":6,"x":0.0747,"y":8.74,"schlieren":100,"thick":1.7},{"panel":3,"streak":"ab","n":7,"x":0.075,"y":5.62,"schlieren":100,"thick":0.6},
{"panel":3,"streak":"ac","n":1,"x":0.0752,"y":14.6,"schlieren":145,"thick":0.1},{"panel":3,"streak":"ac","n":2,"x":0.0748,"y":11.5,"schlieren":145,"thick":0.9},{"panel":3,"streak":"ac","n":3,"x":0.0747,"y":9.5,"schlieren":145,"thick":0.8},{"panel":3,"streak":"ac","n":4,"x":0.0747,"y":7.5,"schlieren":145,"thick":0},
{"panel":3,"streak":"p","n":1,"x":0.057,"y":25.1,"schlieren":95,"thick":0.4},{"panel":3,"streak":"p","n":2,"x":0.0585,"y":23.74,"schlieren":95,"thick":0.75},{"panel":3,"streak":"p","n":3,"x":0.0595,"y":22.49,"schlieren":95,"thick":0.75},
{"panel":3,"streak":"q","n":1,"x":0.0597,"y":19.16,"schlieren":105,"thick":1},{"panel":3,"streak":"q","n":2,"x":0.061,"y":16.45,"schlieren":105,"thick":1.1},{"panel":3,"streak":"q","n":3,"x":0.0626,"y":12.91,"schlieren":105,"thick":1.2},{"panel":3,"streak":"q","n":4,"x":0.0639,"y":10.2,"schlieren":105,"thick":1.2},{"panel":3,"streak":"q","n":5,"x":0.0651,"y":6.66,"schlieren":105,"thick":1.2},{"panel":3,"streak":"q","n":6,"x":0.0664,"y":3.53,"schlieren":105,"thick":1.2},
{"panel":3,"streak":"r","n":1,"x":0.0597,"y":19.5,"schlieren":165,"thick":1},{"panel":3,"streak":"r","n":2,"x":0.061,"y":16.45,"schlieren":165,"thick":0.9},{"panel":3,"streak":"r","n":3,"x":0.0626,"y":12.91,"schlieren":165,"thick":0.8},{"panel":3,"streak":"r","n":4,"x":0.0639,"y":9.5,"schlieren":165,"thick":0},
{"panel":3,"streak":"s","n":1,"x":0.0624,"y":25.1,"schlieren":130,"thick":0.7},{"panel":3,"streak":"s","n":2,"x":0.061,"y":23.95,"schlieren":130,"thick":0.8},{"panel":3,"streak":"s","n":3,"x":0.0599,"y":22.28,"schlieren":130,"thick":0.95},{"panel":3,"streak":"s","n":4,"x":0.0603,"y":20.83,"schlieren":130,"thick":1.1},{"panel":3,"streak":"s","n":5,"x":0.0601,"y":19.37,"schlieren":130,"thick":1.1},{"panel":3,"streak":"s","n":6,"x":0.0598,"y":18,"schlieren":130,"thick":1},
{"panel":3,"streak":"t","n":1,"x":0.0572,"y":26.14,"schlieren":200,"thick":0.4},{"panel":3,"streak":"t","n":2,"x":0.0597,"y":25.72,"schlieren":200,"thick":0.55},{"panel":3,"streak":"t","n":3,"x":0.0626,"y":25.3,"schlieren":200,"thick":0.85},{"panel":3,"streak":"t","n":4,"x":0.065,"y":25.3,"schlieren":200,"thick":0.3},
{"panel":3,"streak":"u","n":1,"x":0.0604,"y":23.2,"schlieren":185,"thick":0.4},{"panel":3,"streak":"u","n":2,"x":0.06,"y":21.4,"schlieren":185,"thick":1.3},{"panel":3,"streak":"u","n":3,"x":0.0601,"y":19.4,"schlieren":185,"thick":1.3},{"panel":3,"streak":"u","n":4,"x":0.0598,"y":17.5,"schlieren":185,"thick":0.1},
{"panel":3,"streak":"v","n":1,"x":0.0601,"y":22.6,"schlieren":265,"thick":0.1},{"panel":3,"streak":"v","n":2,"x":0.0602,"y":21,"schlieren":265,"thick":1},{"panel":3,"streak":"v","n":3,"x":0.0602,"y":19.8,"schlieren":265,"thick":1},{"panel":3,"streak":"v","n":4,"x":0.0601,"y":18.4,"schlieren":265,"thick":0.1},
{"panel":3,"streak":"w","n":1,"x":0.0602,"y":21.6,"schlieren":315,"thick":0.05},{"panel":3,"streak":"w","n":2,"x":0.0603,"y":20.6,"schlieren":315,"thick":0.7},{"panel":3,"streak":"w","n":3,"x":0.0602,"y":19.6,"schlieren":315,"thick":0.05}
]},
"vconcat":[
{"width":2084,"height":467,"resolve":{"scale":{"x":"independent"}},"layer":[
{"resolve":{"scale":{"size":"independent"}},"layer":[
{"data":{"name":"grid"},"mark":{"type":"area","clip":true,"color":"#440154"},"encoding":{"x":{"field":"x","type":"quantitative","axis":null,"scale":{"domain":[-0.01877,0.1019],"nice":false,"zero":false}},"y":{"field":"floor","type":"quantitative","axis":null,"scale":{"domain":[0,27.05],"nice":false,"zero":false}},"y2":{"datum":26.2}}},
{"data":{"name":"streaks"},"transform":[{"filter":"datum.panel==1"}],"mark":{"type":"trail","clip":true,"opacity":0.2},"encoding":{"x":{"field":"x","type":"quantitative","axis":null},"y":{"field":"y","type":"quantitative","axis":null},"detail":{"field":"streak"},"order":{"field":"n","type":"quantitative"},"size":{"field":"thick","type":"quantitative","legend":null,"scale":{"domain":[0,10],"range":[0,210]}},"color":{"field":"schlieren","type":"quantitative","legend":null,"scale":{"scheme":"viridis","domain":[20,361]}}}},
{"data":{"name":"streaks"},"transform":[{"filter":"datum.panel==1"}],"mark":{"type":"trail","clip":true,"opacity":0.25},"encoding":{"x":{"field":"x","type":"quantitative","axis":null},"y":{"field":"y","type":"quantitative","axis":null},"detail":{"field":"streak"},"order":{"field":"n","type":"quantitative"},"size":{"field":"thick","type":"quantitative","legend":null,"scale":{"domain":[0,10],"range":[0,160]}},"color":{"field":"schlieren","type":"quantitative","legend":null,"scale":{"scheme":"viridis","domain":[20,361]}}}},
{"data":{"name":"streaks"},"transform":[{"filter":"datum.panel==1"}],"mark":{"type":"trail","clip":true,"opacity":0.3},"encoding":{"x":{"field":"x","type":"quantitative","axis":null},"y":{"field":"y","type":"quantitative","axis":null},"detail":{"field":"streak"},"order":{"field":"n","type":"quantitative"},"size":{"field":"thick","type":"quantitative","legend":null,"scale":{"domain":[0,10],"range":[0,112]}},"color":{"field":"schlieren","type":"quantitative","legend":null,"scale":{"scheme":"viridis","domain":[20,361]}}}},
{"data":{"name":"streaks"},"transform":[{"filter":"datum.panel==1"}],"mark":{"type":"trail","clip":true,"opacity":0.6},"encoding":{"x":{"field":"x","type":"quantitative","axis":null},"y":{"field":"y","type":"quantitative","axis":null},"detail":{"field":"streak"},"order":{"field":"n","type":"quantitative"},"size":{"field":"thick","type":"quantitative","legend":null,"scale":{"domain":[0,10],"range":[0,62]}},"color":{"field":"schlieren","type":"quantitative","legend":null,"scale":{"scheme":"viridis","domain":[20,361]}}}},
{"data":{"name":"grid"},"mark":{"type":"area","clip":true,"color":"white"},"encoding":{"x":{"field":"x","type":"quantitative","axis":null},"y":{"field":"floor","type":"quantitative","axis":null},"y2":{"datum":-8}}},
{"data":{"values":[{}]},"mark":{"type":"rect","clip":true,"color":"white"},"encoding":{"x":{"datum":-0.01877,"axis":null},"x2":{"datum":0.1019},"y":{"datum":26.2,"axis":null},"y2":{"datum":28}}},
{"data":{"name":"grid"},"transform":[{"filter":"datum.kind=='major'&&datum.floor>0"}],"mark":{"type":"rule","clip":true,"color":"#bdbdbd","strokeWidth":1.5},"encoding":{"x":{"field":"x","type":"quantitative","axis":null},"y":{"field":"floor","type":"quantitative","axis":null},"y2":{"datum":0}}},
{"data":{"name":"grid"},"transform":[{"filter":"datum.kind=='minor'&&datum.floor>0"}],"mark":{"type":"rule","clip":true,"color":"#333333","strokeWidth":1.5,"strokeDash":[1.5,8]},"encoding":{"x":{"field":"x","type":"quantitative","axis":null},"y":{"field":"floor","type":"quantitative","axis":null},"y2":{"datum":0}}},
{"data":{"name":"grid"},"transform":[{"filter":"datum.kind=='major'"}],"mark":{"type":"rule","clip":true,"color":"black","strokeWidth":1.5},"encoding":{"x":{"field":"x","type":"quantitative","axis":null},"y":{"datum":27.05,"axis":null},"y2":{"datum":26.2}}},
{"data":{"name":"grid"},"transform":[{"filter":"datum.kind=='minor'"}],"mark":{"type":"rule","clip":true,"color":"black","strokeWidth":1},"encoding":{"x":{"field":"x","type":"quantitative","axis":null},"y":{"datum":27.05,"axis":null},"y2":{"datum":26.7}}},
{"data":{"name":"grid"},"transform":[{"filter":"datum.kind=='major'"}],"mark":{"type":"rule","clip":true,"color":"black","strokeWidth":1.5},"encoding":{"x":{"field":"x","type":"quantitative","axis":null},"y":{"datum":0,"axis":null},"y2":{"datum":0.85}}},
{"data":{"name":"grid"},"transform":[{"filter":"datum.kind=='minor'"}],"mark":{"type":"rule","clip":true,"color":"black","strokeWidth":1},"encoding":{"x":{"field":"x","type":"quantitative","axis":null},"y":{"datum":0,"axis":null},"y2":{"datum":0.35}}},
{"data":{"values":[{}]},"mark":{"type":"rect","color":"white","stroke":"#bbbbbb","strokeWidth":1},"encoding":{"x":{"datum":-0.01877,"axis":null},"x2":{"datum":-0.00776},"y":{"datum":27.05,"axis":null},"y2":{"datum":24.56}}},
{"data":{"values":[{"label":"PR = 1.44"}]},"mark":{"type":"text","align":"left","baseline":"middle","font":"Liberation Sans","fontSize":38,"color":"black"},"encoding":{"x":{"datum":-0.01819,"axis":null},"y":{"datum":25.83,"axis":null},"text":{"field":"label","type":"nominal"}}},
{"data":{"values":[{}]},"mark":{"type":"rect","fill":null,"filled":false,"stroke":"black","strokeWidth":3},"encoding":{"x":{"datum":-0.01877,"axis":null},"x2":{"datum":0.1019},"y":{"datum":0,"axis":null},"y2":{"datum":27.05}}}
]},
{"data":{"name":"grid"},"transform":[{"filter":"datum.kind=='major'"}],"mark":{"type":"rule","opacity":0},"encoding":{"y":{"datum":1,"axis":null},"y2":{"datum":2},"x":{"field":"x","type":"quantitative","scale":{"domain":[-0.01877,0.1019],"nice":false,"zero":false},"axis":{"orient":"top","values":[-0.01,0,0.01,0.02,0.03,0.04,0.05,0.06,0.07,0.08,0.09,0.1],"format":".2~f","labelExpr":"replace(datum.label,'−','-')","title":null,"domain":false,"ticks":false,"grid":false,"labelFont":"Liberation Sans","labelFontSize":29.5,"labelColor":"black","labelPadding":1.5,"labelOverlap":false,"labelFlush":false}}}},
{"layer":[
{"data":{"values":[{}]},"mark":{"type":"rect","color":"white","stroke":"#c4c4c4","strokeWidth":1.5},"encoding":{"x":{"datum":-60.5,"axis":null,"scale":{"domain":[20,361],"range":[173,889],"nice":false,"zero":false}},"x2":{"datum":379.6},"y":{"datum":4.69,"axis":null},"y2":{"datum":0.23}}},
{"data":{"name":"bar"},"mark":{"type":"rect","strokeWidth":0.6},"encoding":{"x":{"field":"lo","type":"quantitative","axis":null},"x2":{"field":"hi"},"y":{"datum":4.4,"axis":null},"y2":{"datum":2.46},"color":{"field":"hi","type":"quantitative","legend":null,"scale":{"scheme":"viridis","domain":[20,361]}},"stroke":{"field":"hi","type":"quantitative","legend":null,"scale":{"scheme":"viridis","domain":[20,361]}}}},
{"data":{"name":"barlines"},"mark":{"type":"rule","color":"#222222","strokeWidth":1},"encoding":{"x":{"field":"v","type":"quantitative","axis":null},"y":{"datum":4.4,"axis":null},"y2":{"datum":2.46}}},
{"data":{"values":[{}]},"mark":{"type":"rect","filled":false,"fill":null,"stroke":"#222222","strokeWidth":1},"encoding":{"x":{"datum":20,"axis":null},"x2":{"datum":361},"y":{"datum":4.4,"axis":null},"y2":{"datum":2.46}}},
{"data":{"name":"barlabels"},"mark":{"type":"text","font":"Liberation Sans","fontSize":21.5,"color":"black","baseline":"middle"},"encoding":{"x":{"field":"v","type":"quantitative","axis":null},"y":{"datum":0.98,"axis":null},"text":{"field":"v","type":"quantitative"}}},
{"data":{"values":[{"label":"schlieren"}]},"mark":{"type":"text","font":"Liberation Sans","fontSize":28,"color":"black","baseline":"middle"},"encoding":{"x":{"datum":-23.3,"axis":null},"y":{"datum":0.98,"axis":null},"text":{"field":"label","type":"nominal"}}}
]}
]},
{"width":2084,"height":467,"resolve":{"scale":{"x":"independent"}},"layer":[
{"resolve":{"scale":{"size":"independent"}},"layer":[
{"data":{"name":"grid"},"mark":{"type":"area","clip":true,"color":"#440154"},"encoding":{"x":{"field":"x","type":"quantitative","axis":null,"scale":{"domain":[-0.01877,0.1019],"nice":false,"zero":false}},"y":{"field":"floor","type":"quantitative","axis":null,"scale":{"domain":[0,27.05],"nice":false,"zero":false}},"y2":{"datum":26.2}}},
{"data":{"name":"streaks"},"transform":[{"filter":"datum.panel==2"}],"mark":{"type":"trail","clip":true,"opacity":0.2},"encoding":{"x":{"field":"x","type":"quantitative","axis":null},"y":{"field":"y","type":"quantitative","axis":null},"detail":{"field":"streak"},"order":{"field":"n","type":"quantitative"},"size":{"field":"thick","type":"quantitative","legend":null,"scale":{"domain":[0,10],"range":[0,210]}},"color":{"field":"schlieren","type":"quantitative","legend":null,"scale":{"scheme":"viridis","domain":[20,361]}}}},
{"data":{"name":"streaks"},"transform":[{"filter":"datum.panel==2"}],"mark":{"type":"trail","clip":true,"opacity":0.25},"encoding":{"x":{"field":"x","type":"quantitative","axis":null},"y":{"field":"y","type":"quantitative","axis":null},"detail":{"field":"streak"},"order":{"field":"n","type":"quantitative"},"size":{"field":"thick","type":"quantitative","legend":null,"scale":{"domain":[0,10],"range":[0,160]}},"color":{"field":"schlieren","type":"quantitative","legend":null,"scale":{"scheme":"viridis","domain":[20,361]}}}},
{"data":{"name":"streaks"},"transform":[{"filter":"datum.panel==2"}],"mark":{"type":"trail","clip":true,"opacity":0.3},"encoding":{"x":{"field":"x","type":"quantitative","axis":null},"y":{"field":"y","type":"quantitative","axis":null},"detail":{"field":"streak"},"order":{"field":"n","type":"quantitative"},"size":{"field":"thick","type":"quantitative","legend":null,"scale":{"domain":[0,10],"range":[0,112]}},"color":{"field":"schlieren","type":"quantitative","legend":null,"scale":{"scheme":"viridis","domain":[20,361]}}}},
{"data":{"name":"streaks"},"transform":[{"filter":"datum.panel==2"}],"mark":{"type":"trail","clip":true,"opacity":0.6},"encoding":{"x":{"field":"x","type":"quantitative","axis":null},"y":{"field":"y","type":"quantitative","axis":null},"detail":{"field":"streak"},"order":{"field":"n","type":"quantitative"},"size":{"field":"thick","type":"quantitative","legend":null,"scale":{"domain":[0,10],"range":[0,62]}},"color":{"field":"schlieren","type":"quantitative","legend":null,"scale":{"scheme":"viridis","domain":[20,361]}}}},
{"data":{"name":"grid"},"mark":{"type":"area","clip":true,"color":"white"},"encoding":{"x":{"field":"x","type":"quantitative","axis":null},"y":{"field":"floor","type":"quantitative","axis":null},"y2":{"datum":-8}}},
{"data":{"values":[{}]},"mark":{"type":"rect","clip":true,"color":"white"},"encoding":{"x":{"datum":-0.01877,"axis":null},"x2":{"datum":0.1019},"y":{"datum":26.2,"axis":null},"y2":{"datum":28}}},
{"data":{"name":"grid"},"transform":[{"filter":"datum.kind=='major'&&datum.floor>0"}],"mark":{"type":"rule","clip":true,"color":"#bdbdbd","strokeWidth":1.5},"encoding":{"x":{"field":"x","type":"quantitative","axis":null},"y":{"field":"floor","type":"quantitative","axis":null},"y2":{"datum":0}}},
{"data":{"name":"grid"},"transform":[{"filter":"datum.kind=='minor'&&datum.floor>0"}],"mark":{"type":"rule","clip":true,"color":"#333333","strokeWidth":1.5,"strokeDash":[1.5,8]},"encoding":{"x":{"field":"x","type":"quantitative","axis":null},"y":{"field":"floor","type":"quantitative","axis":null},"y2":{"datum":0}}},
{"data":{"name":"grid"},"transform":[{"filter":"datum.kind=='major'"}],"mark":{"type":"rule","clip":true,"color":"black","strokeWidth":1.5},"encoding":{"x":{"field":"x","type":"quantitative","axis":null},"y":{"datum":27.05,"axis":null},"y2":{"datum":26.2}}},
{"data":{"name":"grid"},"transform":[{"filter":"datum.kind=='minor'"}],"mark":{"type":"rule","clip":true,"color":"black","strokeWidth":1},"encoding":{"x":{"field":"x","type":"quantitative","axis":null},"y":{"datum":27.05,"axis":null},"y2":{"datum":26.7}}},
{"data":{"name":"grid"},"transform":[{"filter":"datum.kind=='major'"}],"mark":{"type":"rule","clip":true,"color":"black","strokeWidth":1.5},"encoding":{"x":{"field":"x","type":"quantitative","axis":null},"y":{"datum":0,"axis":null},"y2":{"datum":0.85}}},
{"data":{"name":"grid"},"transform":[{"filter":"datum.kind=='minor'"}],"mark":{"type":"rule","clip":true,"color":"black","strokeWidth":1},"encoding":{"x":{"field":"x","type":"quantitative","axis":null},"y":{"datum":0,"axis":null},"y2":{"datum":0.35}}},
{"data":{"values":[{}]},"mark":{"type":"rect","color":"white","stroke":"#bbbbbb","strokeWidth":1},"encoding":{"x":{"datum":-0.01877,"axis":null},"x2":{"datum":-0.00898},"y":{"datum":27.05,"axis":null},"y2":{"datum":24.56}}},
{"data":{"values":[{"label":"PR = 1.6"}]},"mark":{"type":"text","align":"left","baseline":"middle","font":"Liberation Sans","fontSize":38,"color":"black"},"encoding":{"x":{"datum":-0.01819,"axis":null},"y":{"datum":25.83,"axis":null},"text":{"field":"label","type":"nominal"}}},
{"data":{"values":[{}]},"mark":{"type":"rect","fill":null,"filled":false,"stroke":"black","strokeWidth":3},"encoding":{"x":{"datum":-0.01877,"axis":null},"x2":{"datum":0.1019},"y":{"datum":0,"axis":null},"y2":{"datum":27.05}}}
]},
{"data":{"name":"grid"},"transform":[{"filter":"datum.kind=='major'"}],"mark":{"type":"rule","opacity":0},"encoding":{"y":{"datum":1,"axis":null},"y2":{"datum":2},"x":{"field":"x","type":"quantitative","scale":{"domain":[-0.01877,0.1019],"nice":false,"zero":false},"axis":{"orient":"top","values":[-0.01,0,0.01,0.02,0.03,0.04,0.05,0.06,0.07,0.08,0.09,0.1],"format":".2~f","labelExpr":"replace(datum.label,'−','-')","title":null,"domain":false,"ticks":false,"grid":false,"labelFont":"Liberation Sans","labelFontSize":29.5,"labelColor":"black","labelPadding":2,"labelOverlap":false,"labelFlush":false}}}},
{"layer":[
{"data":{"values":[{}]},"mark":{"type":"rect","color":"white","stroke":"#c4c4c4","strokeWidth":1.5},"encoding":{"x":{"datum":-60.5,"axis":null,"scale":{"domain":[20,361],"range":[173,889],"nice":false,"zero":false}},"x2":{"datum":379.6},"y":{"datum":4.69,"axis":null},"y2":{"datum":0.23}}},
{"data":{"name":"bar"},"mark":{"type":"rect","strokeWidth":0.6},"encoding":{"x":{"field":"lo","type":"quantitative","axis":null},"x2":{"field":"hi"},"y":{"datum":4.4,"axis":null},"y2":{"datum":2.46},"color":{"field":"hi","type":"quantitative","legend":null,"scale":{"scheme":"viridis","domain":[20,361]}},"stroke":{"field":"hi","type":"quantitative","legend":null,"scale":{"scheme":"viridis","domain":[20,361]}}}},
{"data":{"name":"barlines"},"mark":{"type":"rule","color":"#222222","strokeWidth":1},"encoding":{"x":{"field":"v","type":"quantitative","axis":null},"y":{"datum":4.4,"axis":null},"y2":{"datum":2.46}}},
{"data":{"values":[{}]},"mark":{"type":"rect","filled":false,"fill":null,"stroke":"#222222","strokeWidth":1},"encoding":{"x":{"datum":20,"axis":null},"x2":{"datum":361},"y":{"datum":4.4,"axis":null},"y2":{"datum":2.46}}},
{"data":{"name":"barlabels"},"mark":{"type":"text","font":"Liberation Sans","fontSize":21.5,"color":"black","baseline":"middle"},"encoding":{"x":{"field":"v","type":"quantitative","axis":null},"y":{"datum":0.98,"axis":null},"text":{"field":"v","type":"quantitative"}}},
{"data":{"values":[{"label":"schlieren"}]},"mark":{"type":"text","font":"Liberation Sans","fontSize":28,"color":"black","baseline":"middle"},"encoding":{"x":{"datum":-23.3,"axis":null},"y":{"datum":0.98,"axis":null},"text":{"field":"label","type":"nominal"}}}
]}
]},
{"width":2084,"height":455,"resolve":{"scale":{"x":"independent"}},"layer":[
{"resolve":{"scale":{"size":"independent"}},"layer":[
{"data":{"name":"grid"},"mark":{"type":"area","clip":true,"color":"#440154"},"encoding":{"x":{"field":"x","type":"quantitative","axis":null,"scale":{"domain":[-0.01877,0.1019],"nice":false,"zero":false}},"y":{"field":"floor","type":"quantitative","axis":null,"scale":{"domain":[0.7,27.05],"nice":false,"zero":false}},"y2":{"datum":26.2}}},
{"data":{"name":"streaks"},"transform":[{"filter":"datum.panel==3"}],"mark":{"type":"trail","clip":true,"opacity":0.2},"encoding":{"x":{"field":"x","type":"quantitative","axis":null},"y":{"field":"y","type":"quantitative","axis":null},"detail":{"field":"streak"},"order":{"field":"n","type":"quantitative"},"size":{"field":"thick","type":"quantitative","legend":null,"scale":{"domain":[0,10],"range":[0,210]}},"color":{"field":"schlieren","type":"quantitative","legend":null,"scale":{"scheme":"viridis","domain":[20,361]}}}},
{"data":{"name":"streaks"},"transform":[{"filter":"datum.panel==3"}],"mark":{"type":"trail","clip":true,"opacity":0.25},"encoding":{"x":{"field":"x","type":"quantitative","axis":null},"y":{"field":"y","type":"quantitative","axis":null},"detail":{"field":"streak"},"order":{"field":"n","type":"quantitative"},"size":{"field":"thick","type":"quantitative","legend":null,"scale":{"domain":[0,10],"range":[0,160]}},"color":{"field":"schlieren","type":"quantitative","legend":null,"scale":{"scheme":"viridis","domain":[20,361]}}}},
{"data":{"name":"streaks"},"transform":[{"filter":"datum.panel==3"}],"mark":{"type":"trail","clip":true,"opacity":0.3},"encoding":{"x":{"field":"x","type":"quantitative","axis":null},"y":{"field":"y","type":"quantitative","axis":null},"detail":{"field":"streak"},"order":{"field":"n","type":"quantitative"},"size":{"field":"thick","type":"quantitative","legend":null,"scale":{"domain":[0,10],"range":[0,112]}},"color":{"field":"schlieren","type":"quantitative","legend":null,"scale":{"scheme":"viridis","domain":[20,361]}}}},
{"data":{"name":"streaks"},"transform":[{"filter":"datum.panel==3"}],"mark":{"type":"trail","clip":true,"opacity":0.6},"encoding":{"x":{"field":"x","type":"quantitative","axis":null},"y":{"field":"y","type":"quantitative","axis":null},"detail":{"field":"streak"},"order":{"field":"n","type":"quantitative"},"size":{"field":"thick","type":"quantitative","legend":null,"scale":{"domain":[0,10],"range":[0,62]}},"color":{"field":"schlieren","type":"quantitative","legend":null,"scale":{"scheme":"viridis","domain":[20,361]}}}},
{"data":{"name":"grid"},"mark":{"type":"area","clip":true,"color":"white"},"encoding":{"x":{"field":"x","type":"quantitative","axis":null},"y":{"field":"floor","type":"quantitative","axis":null},"y2":{"datum":-8}}},
{"data":{"values":[{}]},"mark":{"type":"rect","clip":true,"color":"white"},"encoding":{"x":{"datum":-0.01877,"axis":null},"x2":{"datum":0.1019},"y":{"datum":26.2,"axis":null},"y2":{"datum":28}}},
{"data":{"name":"grid"},"transform":[{"filter":"datum.kind=='major'&&datum.floor>0.7"}],"mark":{"type":"rule","clip":true,"color":"#bdbdbd","strokeWidth":1.5},"encoding":{"x":{"field":"x","type":"quantitative","axis":null},"y":{"field":"floor","type":"quantitative","axis":null},"y2":{"datum":0.7}}},
{"data":{"name":"grid"},"transform":[{"filter":"datum.kind=='minor'&&datum.floor>0.7"}],"mark":{"type":"rule","clip":true,"color":"#333333","strokeWidth":1.5,"strokeDash":[1.5,8]},"encoding":{"x":{"field":"x","type":"quantitative","axis":null},"y":{"field":"floor","type":"quantitative","axis":null},"y2":{"datum":0.7}}},
{"data":{"name":"grid"},"transform":[{"filter":"datum.kind=='major'"}],"mark":{"type":"rule","clip":true,"color":"black","strokeWidth":1.5},"encoding":{"x":{"field":"x","type":"quantitative","axis":null},"y":{"datum":27.05,"axis":null},"y2":{"datum":26.2}}},
{"data":{"name":"grid"},"transform":[{"filter":"datum.kind=='minor'"}],"mark":{"type":"rule","clip":true,"color":"black","strokeWidth":1},"encoding":{"x":{"field":"x","type":"quantitative","axis":null},"y":{"datum":27.05,"axis":null},"y2":{"datum":26.7}}},
{"data":{"name":"grid"},"transform":[{"filter":"datum.kind=='major'"}],"mark":{"type":"rule","clip":true,"color":"black","strokeWidth":1.5},"encoding":{"x":{"field":"x","type":"quantitative","axis":null},"y":{"datum":0.7,"axis":null},"y2":{"datum":1.55}}},
{"data":{"name":"grid"},"transform":[{"filter":"datum.kind=='minor'"}],"mark":{"type":"rule","clip":true,"color":"black","strokeWidth":1},"encoding":{"x":{"field":"x","type":"quantitative","axis":null},"y":{"datum":0.7,"axis":null},"y2":{"datum":1.05}}},
{"data":{"values":[{}]},"mark":{"type":"rect","color":"white","stroke":"#bbbbbb","strokeWidth":1},"encoding":{"x":{"datum":-0.01877,"axis":null},"x2":{"datum":-0.00776},"y":{"datum":27.05,"axis":null},"y2":{"datum":24.56}}},
{"data":{"values":[{"label":"PR = 1.81"}]},"mark":{"type":"text","align":"left","baseline":"middle","font":"Liberation Sans","fontSize":38,"color":"black"},"encoding":{"x":{"datum":-0.01819,"axis":null},"y":{"datum":25.83,"axis":null},"text":{"field":"label","type":"nominal"}}},
{"data":{"values":[{}]},"mark":{"type":"rect","fill":null,"filled":false,"stroke":"black","strokeWidth":3},"encoding":{"x":{"datum":-0.01877,"axis":null},"x2":{"datum":0.1019},"y":{"datum":0.7,"axis":null},"y2":{"datum":27.05}}}
]},
{"data":{"name":"grid"},"transform":[{"filter":"datum.kind=='major'"}],"mark":{"type":"rule","opacity":0},"encoding":{"y":{"datum":1,"axis":null},"y2":{"datum":2},"x":{"field":"x","type":"quantitative","scale":{"domain":[-0.01877,0.1019],"nice":false,"zero":false},"axis":{"orient":"top","values":[-0.01,0,0.01,0.02,0.03,0.04,0.05,0.06,0.07,0.08,0.09,0.1],"format":".2~f","labelExpr":"replace(datum.label,'−','-')","title":null,"domain":false,"ticks":false,"grid":false,"labelFont":"Liberation Sans","labelFontSize":29.5,"labelColor":"black","labelPadding":1.5,"labelOverlap":false,"labelFlush":false}}}},
{"data":{"name":"grid"},"transform":[{"filter":"datum.kind=='major'"}],"mark":{"type":"rule","opacity":0},"encoding":{"y":{"datum":1,"axis":null},"y2":{"datum":2},"x":{"field":"x","type":"quantitative","scale":{"domain":[-0.01877,0.1019],"nice":false,"zero":false},"axis":{"orient":"bottom","values":[-0.01,0,0.01,0.02,0.03,0.04,0.05,0.06,0.07,0.08,0.09,0.1],"format":".2~f","labelExpr":"replace(datum.label,'−','-')","title":"X coordinate (m)","titleFont":"Liberation Sans","titleFontWeight":"bold","titleFontSize":38,"titleColor":"black","titlePadding":0,"domain":false,"ticks":false,"grid":false,"labelFont":"Liberation Sans","labelFontSize":31,"labelColor":"black","labelPadding":4,"labelOverlap":false,"labelFlush":false}}}},
{"layer":[
{"data":{"values":[{}]},"mark":{"type":"rect","color":"white","stroke":"#c4c4c4","strokeWidth":1.5},"encoding":{"x":{"datum":-60.5,"axis":null,"scale":{"domain":[20,361],"range":[173,889],"nice":false,"zero":false}},"x2":{"datum":379.6},"y":{"datum":5.29,"axis":null},"y2":{"datum":0.87}}},
{"data":{"name":"bar"},"mark":{"type":"rect","strokeWidth":0.6},"encoding":{"x":{"field":"lo","type":"quantitative","axis":null},"x2":{"field":"hi"},"y":{"datum":4.99,"axis":null},"y2":{"datum":3.07},"color":{"field":"hi","type":"quantitative","legend":null,"scale":{"scheme":"viridis","domain":[20,361]}},"stroke":{"field":"hi","type":"quantitative","legend":null,"scale":{"scheme":"viridis","domain":[20,361]}}}},
{"data":{"name":"barlines"},"mark":{"type":"rule","color":"#222222","strokeWidth":1},"encoding":{"x":{"field":"v","type":"quantitative","axis":null},"y":{"datum":4.99,"axis":null},"y2":{"datum":3.07}}},
{"data":{"values":[{}]},"mark":{"type":"rect","filled":false,"fill":null,"stroke":"#222222","strokeWidth":1},"encoding":{"x":{"datum":20,"axis":null},"x2":{"datum":361},"y":{"datum":4.99,"axis":null},"y2":{"datum":3.07}}},
{"data":{"name":"barlabels"},"mark":{"type":"text","font":"Liberation Sans","fontSize":21.5,"color":"black","baseline":"middle"},"encoding":{"x":{"field":"v","type":"quantitative","axis":null},"y":{"datum":1.6,"axis":null},"text":{"field":"v","type":"quantitative"}}},
{"data":{"values":[{"label":"schlieren"}]},"mark":{"type":"text","font":"Liberation Sans","fontSize":28,"color":"black","baseline":"middle"},"encoding":{"x":{"datum":-23.3,"axis":null},"y":{"datum":1.6,"axis":null},"text":{"field":"label","type":"nominal"}}}
]}
]}
]}
